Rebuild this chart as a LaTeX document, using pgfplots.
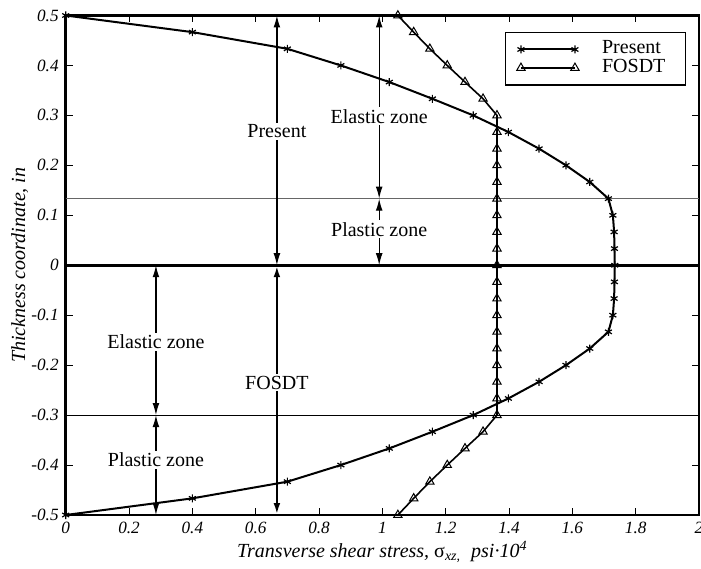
\documentclass[border=0pt]{standalone}
\usepackage{fontspec}
\setmainfont{Liberation Serif}
\usepackage{pgfplots}
\usepackage{pgfplotstable}
\pgfplotsset{compat=1.18}
\usetikzlibrary{arrows.meta}

% Shear stress through the thickness (x = stress, y = thickness coordinate)
\pgfplotstableread{
x      y
0.000  0.5000
0.400  0.4667
0.700  0.4333
0.869  0.4000
1.022  0.3667
1.158  0.3333
1.287  0.3000
1.398  0.2667
1.495  0.2333
1.580  0.2000
1.655  0.1667
1.714  0.1333
1.728  0.1000
1.732  0.0667
1.733  0.0333
1.734  0.0000
1.733 -0.0333
1.732 -0.0667
1.728 -0.1000
1.714 -0.1333
1.655 -0.1667
1.580 -0.2000
1.495 -0.2333
1.398 -0.2667
1.287 -0.3000
1.158 -0.3333
1.022 -0.3667
0.869 -0.4000
0.700 -0.4333
0.400 -0.4667
0.000 -0.5000
}\present

\pgfplotstableread{
x      y
1.049  0.5000
1.099  0.4667
1.150  0.4333
1.205  0.4000
1.261  0.3667
1.318  0.3333
1.362  0.3000
1.362  0.2667
1.362  0.2333
1.362  0.2000
1.362  0.1667
1.362  0.1333
1.362  0.1000
1.362  0.0667
1.362  0.0333
1.362  0.0000
1.362 -0.0333
1.362 -0.0667
1.362 -0.1000
1.362 -0.1333
1.362 -0.1667
1.362 -0.2000
1.362 -0.2333
1.362 -0.2667
1.362 -0.3000
1.318 -0.3333
1.261 -0.3667
1.205 -0.4000
1.150 -0.4333
1.099 -0.4667
1.049 -0.5000
}\fosdt

\newcommand{\lblfont}{\fontsize{10}{12}\selectfont}

\begin{document}
\begin{tikzpicture}[
  arr/.style={{Latex[length=6pt,width=3.4pt]}-{Latex[length=6pt,width=3.4pt]}, line width=0.6pt, black},
  lbl/.style={fill=white, inner sep=1pt, font=\lblfont}
]
\begin{axis}[
  name=ax,
  scale only axis,
  width=316.65pt, height=249.75pt,
  xmin=0, xmax=2, ymin=-0.5, ymax=0.5,
  xtick={0,0.2,0.4,0.6,0.8,1,1.2,1.4,1.6,1.8,2},
  ytick={-0.5,-0.4,-0.3,-0.2,-0.1,0,0.1,0.2,0.3,0.4,0.5},
  tick align=inside,
  major tick length=3.5pt,
  tick style={line width=0.5pt, black},
  axis line style={line width=1.2pt},
  ticklabel style={font=\fontsize{8.6}{10}\selectfont\itshape},
  /pgf/number format/assume math mode=true,
  clip mode=individual,
  xlabel={\itshape Transverse shear stress, {\upshape σ}\textsubscript{xz,}\ \ psi·10\textsuperscript{4}},
  ylabel={\itshape Thickness coordinate, in},
  xlabel style={at={(axis description cs:0.5,-0.0853)}, anchor=base, font=\lblfont},
  ylabel style={at={(axis description cs:-0.0642,0.5)}, anchor=base, rotate=0, font=\lblfont},
  legend style={at={(rel axis cs:1,1)}, anchor=north east, xshift=-6.5pt, yshift=-8.1pt,
    draw=black, line width=0.6pt, inner xsep=5.65pt, inner ysep=4pt,
    font=\lblfont, nodes={inner sep=0pt, text height=6.8pt, text depth=2.4pt, anchor=west},
    row sep=0pt, /tikz/every odd column/.append style={column sep=11.5pt}},
  legend cell align=left,
  legend image code/.code={\draw[#1, mark repeat=1, mark phase=1] plot coordinates {(0pt,0pt) (27pt,0pt)};},
]
% zone boundaries and mid-plane
\draw[black!60, line width=0.6pt] (axis cs:0,0.1333) -- (axis cs:2,0.1333);
\draw[black, line width=0.5pt] (axis cs:0,-0.3) -- (axis cs:2,-0.3);
\draw[black, line width=1.3pt] (axis cs:0,0) -- (axis cs:2,0);

% zone annotations
\draw[arr] (axis cs:0.667,0.5) -- (axis cs:0.667,0);
\node[lbl] at (axis cs:0.667,0.268) {Present};
\draw[arr, line width=1.3pt] (axis cs:0.667,0) -- (axis cs:0.667,-0.5);
\node[lbl] at (axis cs:0.667,-0.235) {FOSDT};
\draw[arr] (axis cs:0.99,0.5) -- (axis cs:0.99,0.1333);
\node[lbl] at (axis cs:0.99,0.298) {Elastic zone};
\draw[arr] (axis cs:0.99,0.1333) -- (axis cs:0.99,0);
\node[lbl] at (axis cs:0.99,0.072) {Plastic zone};
\draw[arr] (axis cs:0.285,0) -- (axis cs:0.285,-0.3);
\node[lbl] at (axis cs:0.285,-0.153) {Elastic zone};
\draw[arr] (axis cs:0.285,-0.3) -- (axis cs:0.285,-0.5);
\node[lbl] at (axis cs:0.285,-0.39) {Plastic zone};

\addplot[black, line width=1pt, mark=asterisk, mark size=2pt,
  mark options={solid, line width=0.6pt}] table[x=x, y=y] {\present};
\addlegendentry{\makebox[36pt][l]{Present}}
\addplot[black, line width=0.8pt, mark=triangle, mark size=2.4pt,
  mark options={solid, line width=0.5pt}] table[x=x, y=y] {\fosdt};
\addlegendentry{\makebox[36pt][l]{FOSDT}}
\end{axis}
\pgfresetboundingbox
\path[use as bounding box] ([xshift=-32.85pt,yshift=-26.5pt]ax.south west) rectangle ([xshift=1pt,yshift=7.75pt]ax.north east);
\end{tikzpicture}
\end{document}
